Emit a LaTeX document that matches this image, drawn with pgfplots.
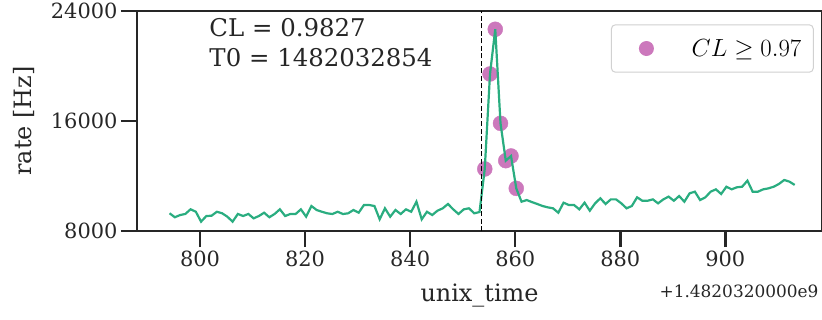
\documentclass[border=0pt]{standalone}
\usepackage{fontspec}
\setmainfont{DejaVu Serif}
\usepackage{pgfplots}
\pgfplotsset{compat=1.18}
\definecolor{linegreen}{HTML}{2AAD80}
\definecolor{markpink}{HTML}{CC78BC}
\definecolor{axgray}{HTML}{262626}

\begin{document}
\begin{tikzpicture}
\begin{axis}[
  scale only axis, width=685bp, height=220bp,
  xmin=788, xmax=918.4, ymin=8000, ymax=24000,
  xtick={800,820,840,860,880,900},
  ytick={8000,16000,24000},
  scaled y ticks=false, scaled x ticks=false,
  /pgf/number format/1000 sep={},
  /pgf/number format/assume math mode=true,
  axis line style={axgray, line width=2.5bp},
  tick align=outside, major tick length=16bp,
  xtick pos=bottom, ytick pos=left,
  every tick/.style={axgray, line width=2.5bp},
  tick label style={font=\fontsize{21}{25}\selectfont, text=axgray},
  xlabel={unix\_time}, ylabel={rate [Hz]},
  label style={font=\fontsize{24}{28}\selectfont, text=axgray},
  xlabel style={at={(axis description cs:0.5,-0.3227)}, anchor=base},
  ylabel style={at={(axis description cs:-0.1537,0.5)}, anchor=base},
  clip mode=individual,
  legend style={at={(0.988,0.9395)}, anchor=north east, draw=black!18, line width=1bp,
    rounded corners=4bp, fill=white, inner sep=0pt,
    font=\fontsize{23}{27}\selectfont, nodes={inner sep=0pt}},
  legend image code/.code={\path[draw=none, fill=none] (-35bp,-23.7bp) rectangle (45.3bp,23.7bp);
    \fill[markpink, draw=none] (0bp,0bp) circle (7.5bp);},
]
\addplot[markpink, only marks, mark=*, mark size=7.5bp, mark options={draw=markpink, fill=markpink}]
  coordinates {(854.2,12510) (855.2,19420) (856.2,22670) (857.2,15830) (858.2,13115) (859.2,13455) (860.2,11100)};
\addlegendentry{$CL \geq 0.97$\hspace*{12bp}}
\addplot[forget plot, linegreen, line width=2.2bp, no marks] table {
x y
794.2 9290
795.2 9000
796.2 9160
797.2 9240
798.2 9580
799.2 9400
800.2 8680
801.2 9090
802.2 9110
803.2 9400
804.2 9290
805.2 9040
806.2 8680
807.2 9240
808.2 9090
809.2 9240
810.2 8920
811.2 9090
812.2 9330
813.2 9000
814.2 9240
815.2 9580
816.2 9090
817.2 9240
818.2 9236
819.2 9575
820.2 9040
821.2 9818
822.2 9527
823.2 9400
824.2 9287
825.2 9236
826.2 9400
827.2 9236
828.2 9287
829.2 9527
830.2 9330
831.2 9890
832.2 9890
833.2 9818
834.2 8850
835.2 9650
836.2 9040
837.2 9527
838.2 9236
839.2 9575
840.2 9400
841.2 10130
842.2 8850
843.2 9400
844.2 9163
845.2 9476
846.2 9650
847.2 9964
848.2 9575
849.2 9236
850.2 9575
851.2 9650
852.2 9287
853.2 9380
854.2 12510
855.2 19420
856.2 22670
857.2 15830
858.2 13115
859.2 13455
860.2 11100
861.2 10130
862.2 10250
863.2 10100
864.2 9964
865.2 9818
866.2 9720
867.2 9650
868.2 9330
869.2 10060
870.2 9890
871.2 9890
872.2 9575
873.2 10060
874.2 9476
875.2 10010
876.2 10380
877.2 9964
878.2 10300
879.2 10300
880.2 10010
881.2 9650
882.2 9818
883.2 10450
884.2 10200
885.2 10200
886.2 10300
887.2 10010
888.2 10300
889.2 10500
890.2 10200
891.2 10545
892.2 10130
893.2 10740
894.2 10860
895.2 10250
896.2 10450
897.2 10860
898.2 11030
899.2 10690
900.2 11220
901.2 11030
902.2 11180
903.2 11220
904.2 11660
905.2 10860
906.2 10860
907.2 11030
908.2 11100
909.2 11220
910.2 11420
911.2 11710
912.2 11590
913.2 11350
};
\addplot[forget plot, black, line width=1.3bp, dash pattern=on 5bp off 2.5bp] coordinates {(853.6,8000) (853.6,24000)};
\node[anchor=base west, font=\fontsize{24.5}{29}\selectfont, text=axgray] at (rel axis cs:0.1007,0.8832) {CL = 0.9827};
\node[anchor=base west, font=\fontsize{24.5}{29}\selectfont, text=axgray] at (rel axis cs:0.1007,0.7468) {T0 = 1482032854};
\node[anchor=base east, font=\fontsize{17}{20}\selectfont, text=axgray] at (rel axis cs:1,-0.3045) {+1.4820320000e9};
\end{axis}
\pgfresetboundingbox
\path[use as bounding box] (current axis.south west) ++(-137bp,-89bp) rectangle ++(822bp,320bp);
\end{tikzpicture}
\end{document}
